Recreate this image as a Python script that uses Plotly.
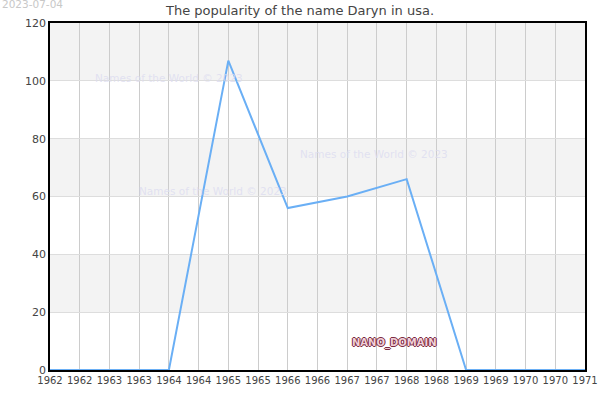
import plotly.graph_objects as go

years = [1962, 1963, 1964, 1965, 1966, 1967, 1968, 1969, 1970, 1971]
counts = [0, 0, 0, 107, 56, 60, 66, 0, 0, 0]
tick_vals = [1962 + 0.5 * i for i in range(19)]
tick_text = ["1962", "1962", "1963", "1963", "1964", "1964", "1965", "1965", "1966", "1966",
             "1967", "1967", "1968", "1968", "1969", "1969", "1970", "1970", "1971"]
y_ticks = [0, 20, 40, 60, 80, 100, 120]
bands = [(20, 40), (60, 80), (100, 120)]

fig = go.Figure()
fig.add_trace(go.Scatter(x=years, y=counts, mode="lines",
                         line=dict(color="#6aaff5", width=2), hoverinfo="skip"))

shapes = []
for y0, y1 in bands:
    shapes.append(dict(type="rect", xref="x", yref="y", x0=1962, x1=1971, y0=y0, y1=y1,
                       fillcolor="#f3f3f3", line=dict(width=0), layer="below"))
fig.update_layout(shapes=shapes)

wm_font = dict(family="DejaVu Sans", size=10.5, color="rgba(220,220,240,0.8)")
for xx, yy in [(1964.0, 101), (1967.45, 74.7), (1964.75, 62)]:
    fig.add_annotation(x=xx, y=yy, xref="x", yref="y", text="Names of the World © 2023",
                       showarrow=False, font=wm_font)
fig.add_annotation(x=1967.8, y=9.5, xref="x", yref="y", text="<b>NANO_DOMAIN</b>",
                   showarrow=False,
                   font=dict(family="DejaVu Sans", size=10, color="#f0d0d8",
                             shadow="1px 0 0 #7a2a40, -1px 0 0 #7a2a40, 0 1px 0 #7a2a40, 0 -1px 0 #7a2a40"))
fig.add_annotation(x=0, y=1, xref="paper", yref="paper", xanchor="left", yanchor="top",
                   xshift=-50, yshift=27,
                   text="2023-07-04", showarrow=False,
                   font=dict(family="DejaVu Sans", size=10.5, color="#c8c8c8"))

fig.update_layout(
    width=600, height=400,
    margin=dict(l=50, r=15, t=23, b=30, autoexpand=False),
    paper_bgcolor="white", plot_bgcolor="white",
    showlegend=False,
    title=dict(text="The popularity of the name Daryn in usa.", x=0.5, xanchor="center",
               y=0.985, yanchor="top",
               font=dict(family="DejaVu Sans", size=13, color="#444")),
    font=dict(family="DejaVu Sans", size=10, color="#444"),
)
fig.update_xaxes(range=[1962, 1971], tickvals=tick_vals, ticktext=tick_text,
                 showgrid=True, gridcolor="#cccccc", gridwidth=1, automargin=False,
                 showline=True, linecolor="black", linewidth=1.5, mirror=True,
                 ticks="", zeroline=False, tickangle=0,
                 tickfont=dict(size=10, color="#444"))
fig.update_yaxes(range=[0, 120], tickvals=y_ticks, automargin=False,
                 showgrid=True, gridcolor="#dddddd", gridwidth=1,
                 showline=True, linecolor="black", linewidth=1.5, mirror=True,
                 ticks="", zeroline=False, tickfont=dict(size=11, color="#444"))

fig.write_html("out.html", config={"displayModeBar": False},
               post_script="document.body.style.margin='0';")
